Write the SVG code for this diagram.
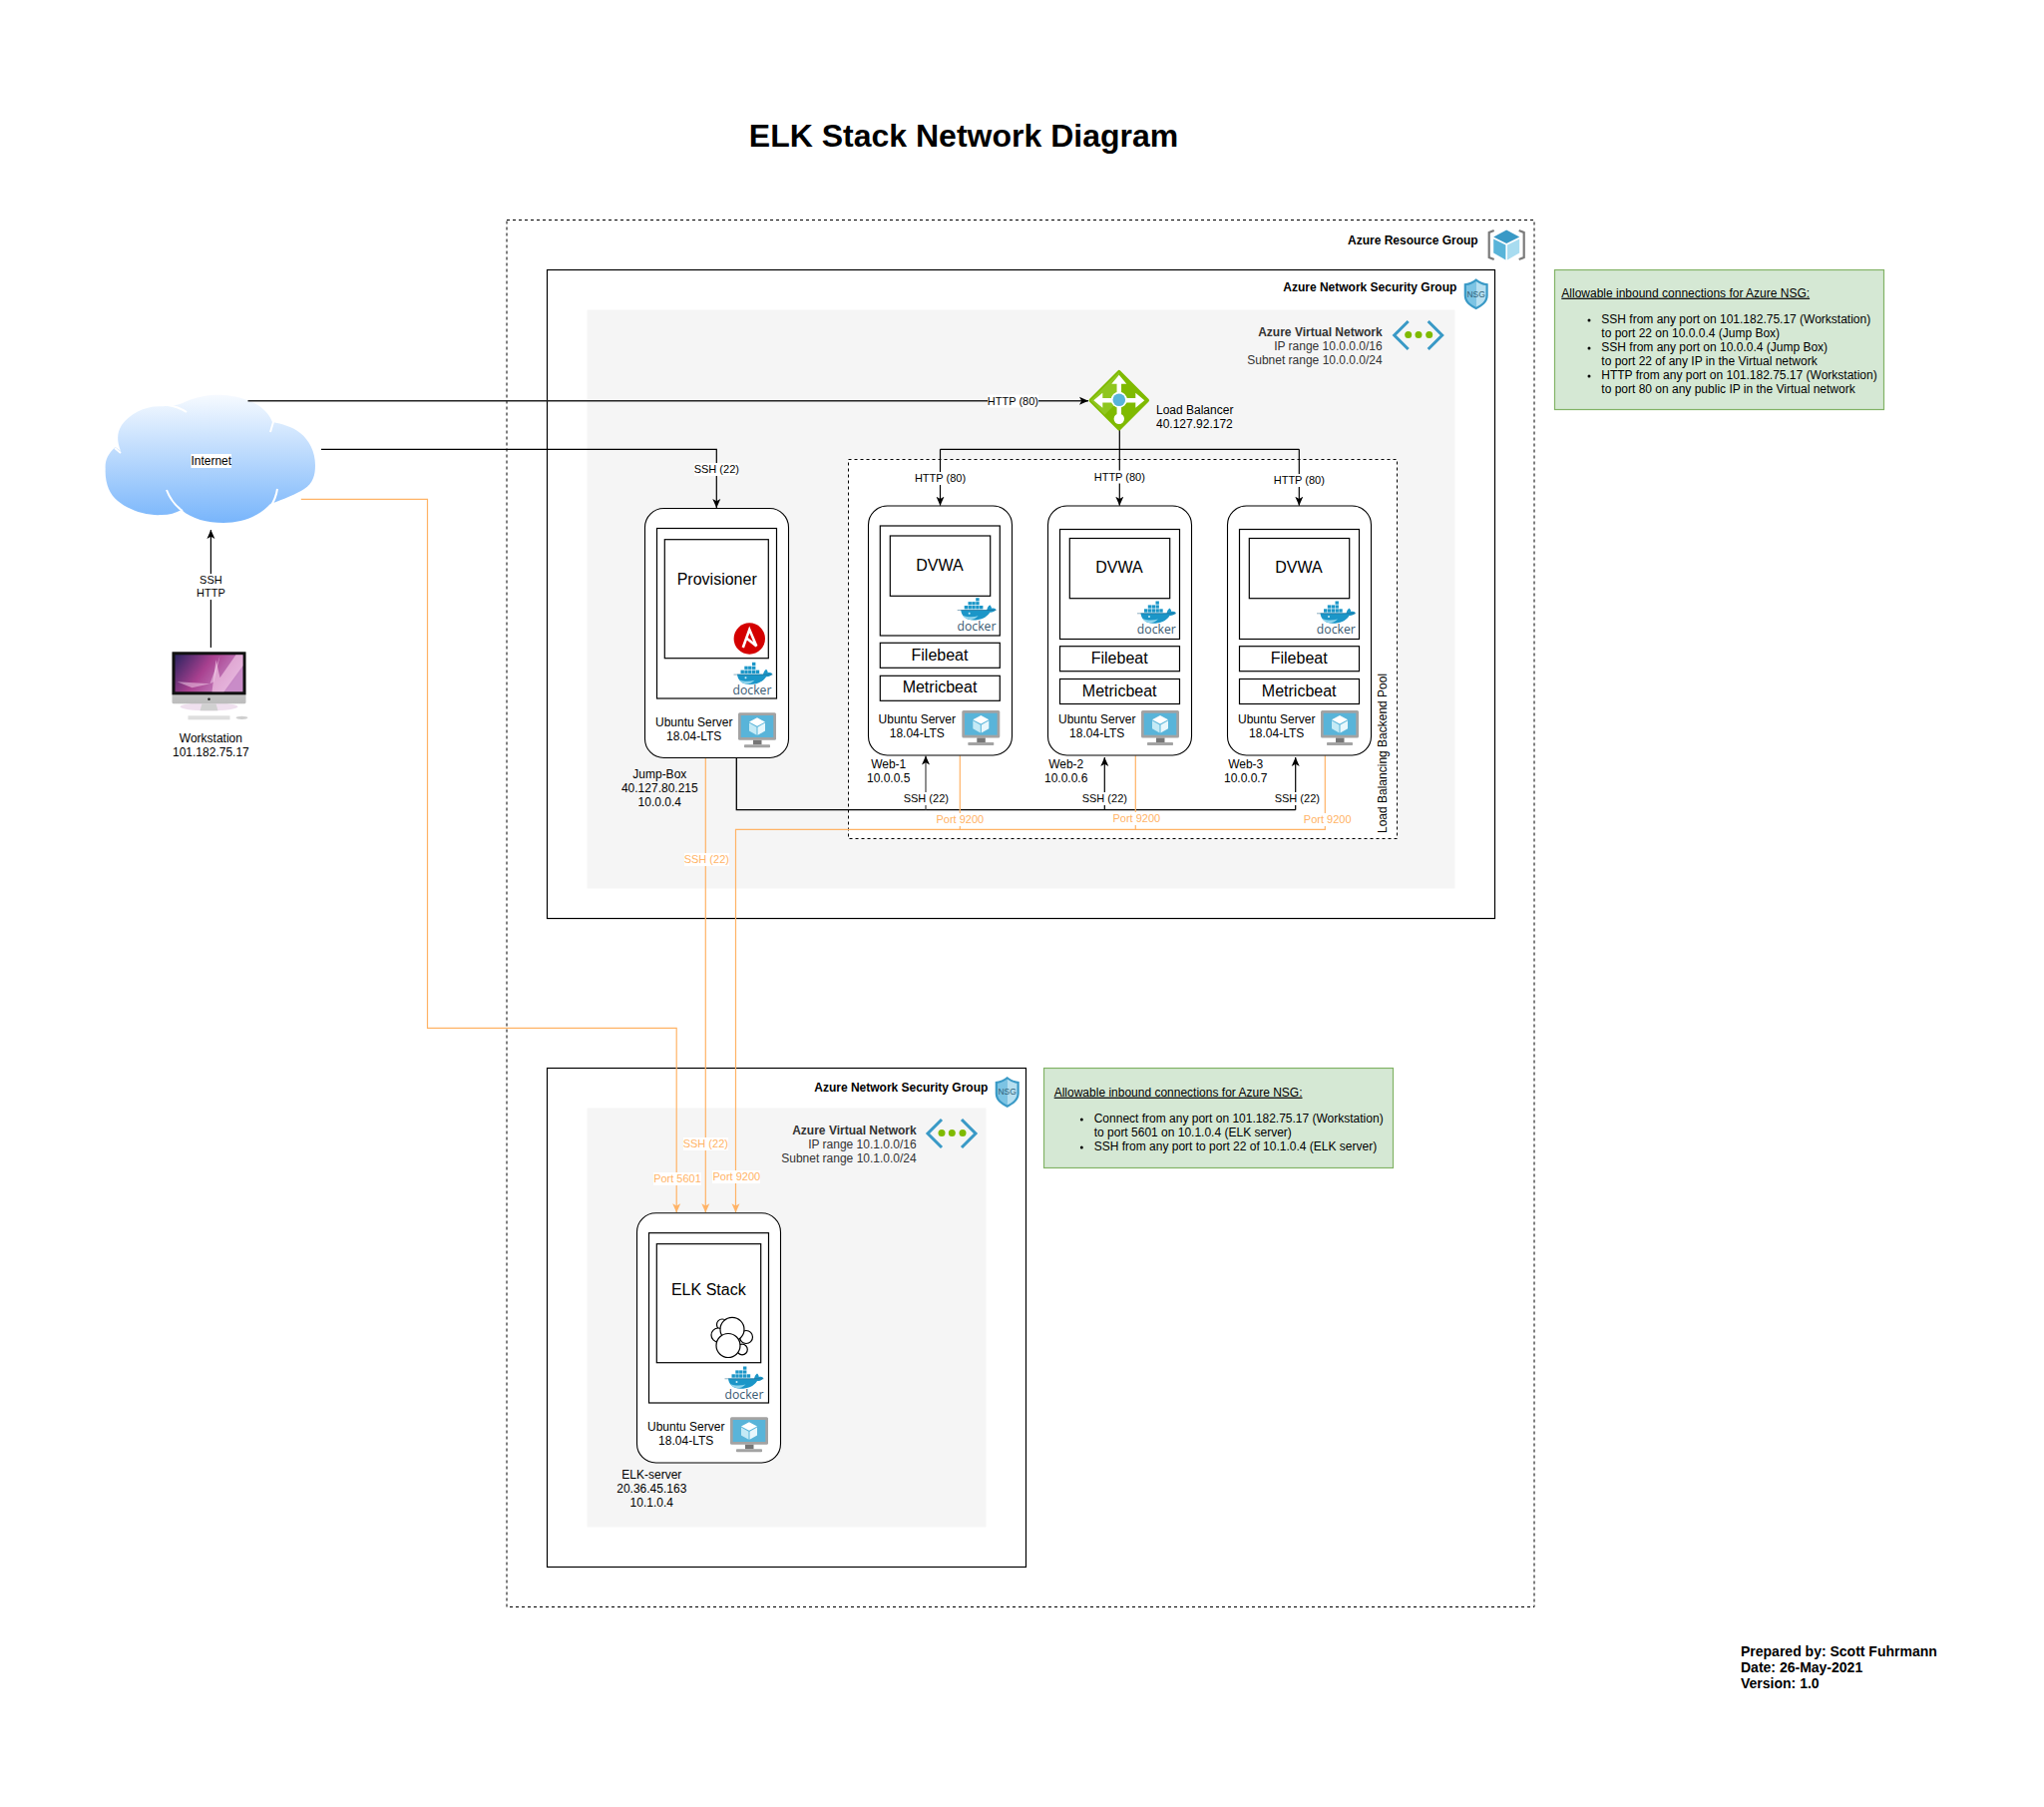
<svg xmlns="http://www.w3.org/2000/svg" xmlns:xlink="http://www.w3.org/1999/xlink" width="2049" height="1811" viewBox="0 0 2049 1811">
<style>
text{font-family:"Liberation Sans",Arial,sans-serif;font-size:12px;fill:#000}
.c{text-anchor:middle}.r{text-anchor:end}
.b{font-weight:bold}
.g{fill:#333}
.s11{font-size:11px}.s16{font-size:16px}
.o{fill:#FFB366}
.lbl{fill:#fff;stroke:none}
.box{fill:#fff;stroke:#000;stroke-width:1.2}
.srv{fill:#fff;stroke:#000;stroke-width:1.1}
.nsg{fill:none;stroke:#000;stroke-width:1.2}
.vnet{fill:#f5f5f5;stroke:none}
.dash{fill:none;stroke:#000;stroke-width:1;stroke-dasharray:3 3}
.note{fill:#d5e8d4;stroke:#82b366;stroke-width:1.2}
.k{fill:none;stroke:#000;stroke-width:1.2}
.kh{fill:none;stroke:#222;stroke-width:1.4;marker-end:url(#ak)}
.a{fill:none;stroke:#000;stroke-width:1.2;marker-end:url(#ak)}
.y{fill:none;stroke:#FFB366;stroke-width:1.2}
.ya{fill:none;stroke:#FFB366;stroke-width:1.2;marker-end:url(#ao)}
.dk{font-family:"Open Sans","Liberation Sans",sans-serif;font-size:12.2px;fill:#3a5a72;text-anchor:middle}
.nsgt{font-size:8.5px;fill:#2f6178;text-anchor:middle}
</style>
<defs>
<marker id="ak" markerUnits="userSpaceOnUse" markerWidth="10" markerHeight="10" refX="9" refY="4.5" orient="auto"><path d="M9,4.5 L0,0.5 L2.2,4.5 L0,8.5 Z" fill="#000"/></marker>
<marker id="ao" markerUnits="userSpaceOnUse" markerWidth="10" markerHeight="10" refX="9" refY="4.5" orient="auto"><path d="M9,4.5 L0,0.5 L2.2,4.5 L0,8.5 Z" fill="#FFB366"/></marker>
<linearGradient id="cloudg" x1="0" y1="0" x2="0" y2="1"><stop offset="0" stop-color="#f6faff"/><stop offset="1" stop-color="#78b5fb"/></linearGradient>
<linearGradient id="screeng" x1="0" y1="0" x2="1" y2="0.4"><stop offset="0" stop-color="#2c2460"/><stop offset=".5" stop-color="#a8408f"/><stop offset="1" stop-color="#c98cc8"/></linearGradient>
<linearGradient id="chin" x1="0" y1="0" x2="0" y2="1"><stop offset="0" stop-color="#e4e4e4"/><stop offset="1" stop-color="#bcbcbc"/></linearGradient>
<g id="whale">
<g fill="#1b96c8">
<rect x="18.5" y="0.5" width="3.4" height="3.2"/>
<rect x="10.8" y="4.4" width="3.4" height="3.2"/><rect x="14.6" y="4.4" width="3.4" height="3.2"/><rect x="18.5" y="4.4" width="3.4" height="3.2"/>
<rect x="7" y="8.3" width="3.4" height="3.4"/><rect x="10.8" y="8.3" width="3.4" height="3.4"/><rect x="14.6" y="8.3" width="3.4" height="3.4"/><rect x="18.5" y="8.3" width="3.4" height="3.4"/><rect x="22.3" y="8.3" width="3.4" height="3.4"/>
<path d="M3.5,12.5 H29.5 C30,10.2 31,8.7 32.5,7.5 C33.8,8.7 34.3,10 34.2,11 C36,10.5 37.6,11 38.8,12 C37.3,14.4 34.8,15.2 32.6,15 C29,20.5 23,22.8 16,22.8 C9,22.8 4,19 3.5,12.5 Z"/>
</g>
<path d="M0,12.8 H39" stroke="#1d5f85" stroke-width=".5" fill="none"/>
<path d="M5.5,18 C10,20 16,20 21,18.5 C18,21.5 15,22.4 13,22.3 C10,22 7,20.5 5.5,18 Z" fill="#8fd4ec"/>
<circle cx="12" cy="16" r="1" fill="#cfeef8"/>
</g>
<g id="vm">
<rect x="0" y="0" width="38" height="27.5" rx="1.5" fill="#a3a3a3"/>
<rect x="2.7" y="2.7" width="32.6" height="22" fill="#59b4d9"/>
<rect x="15" y="27.5" width="8.5" height="4.5" fill="#767676"/>
<rect x="6" y="32" width="26" height="3" rx=".8" fill="#a3a3a3"/>
<path d="M19,5 L27,9.3 L19,13.5 L11,9.3 Z" fill="#fff"/>
<path d="M11,10.3 L18.5,14.4 V22.5 L11,18.3 Z" fill="#c4eaf6"/>
<path d="M27,10.3 L19.5,14.4 V22.5 L27,18.3 Z" fill="#e8f7fc"/>
</g>
<g id="shield">
<path d="M12,0 C8.5,3.2 4.5,4.5 0,5 V17 C0,23.8 6,28 12,31 C18,28 24,23.8 24,17 V5 C19.5,4.5 15.5,3.2 12,0 Z" fill="#3999c6"/>
<path d="M12,2.6 C9,5 5.5,6.2 2.2,6.8 V17 C2.2,22.5 7,26 12,28.5 Z" fill="#7cc4e4"/>
<path d="M12,2.6 C15,5 18.5,6.2 21.8,6.8 V17 C21.8,22.5 17,26 12,28.5 Z" fill="#b6dff0"/>
</g>
<g id="vneticon">
<path d="M16,1 L2,15 L16,29" fill="none" stroke="#3999c6" stroke-width="3"/>
<path d="M36,1 L50,15 L36,29" fill="none" stroke="#3999c6" stroke-width="3"/>
<circle cx="16" cy="14.5" r="3.5" fill="#7fba00"/><circle cx="26.3" cy="14.5" r="3.5" fill="#7fba00"/><circle cx="37" cy="14.5" r="3.5" fill="#7fba00"/>
</g>
</defs>
<rect width="2049" height="1811" fill="#fff"/>
<text id="title" x="966" y="147" class="c b" style="font-size:32px">ELK Stack Network Diagram</text>

<g id="resource-group">
<rect class="dash" x="508" y="220.5" width="1030" height="1390"/>
<text class="r b" x="1481.7" y="244.7">Azure Resource Group</text>
<g transform="translate(1490.7,230)">
<path d="M7,1 L2,3 V28 L7,30 M32,1 L37,3 V28 L32,30" fill="none" stroke="#7a7a7a" stroke-width="2.2"/>
<path d="M19.5,0.5 L32.5,7.5 L19.5,14 L6.5,7.5 Z" fill="#3999c6"/>
<path d="M6.5,9.5 L18.7,15.5 V30.5 L6.5,23.5 Z" fill="#59b4d9"/>
<path d="M32.5,9.5 L20.3,15.5 V30.5 L32.5,23.5 Z" fill="#a8dcf0"/>
</g>
</g>

<g id="nsg-1">
<rect class="nsg" x="548.5" y="270.5" width="950" height="650"/>
<text class="r b" x="1460.3" y="291.7">Azure Network Security Group</text>
<use xlink:href="#shield" href="#shield" transform="translate(1467.7,279.3)"/>
<text class="nsgt" x="1479.7" y="297.5">NSG</text>
</g>
<g id="vnet-1">
<rect class="vnet" x="588.5" y="310.5" width="870" height="580"/>
<text class="r b g" x="1385.7" y="336.7">Azure Virtual Network</text>
<text class="r g" x="1385.7" y="350.7">IP range 10.0.0.0/16</text>
<text class="r g" x="1385.7" y="364.7">Subnet range 10.0.0.0/24</text>
<use xlink:href="#vneticon" href="#vneticon" transform="translate(1395.7,321)"/>
</g>
<g id="backend-pool">
<rect class="dash" x="850.5" y="460.5" width="550" height="380" style="fill:#fff"/>
<text transform="translate(1389.7,835) rotate(-90)">Load Balancing Backend Pool</text>
</g>

<g id="nsg-2">
<rect class="nsg" x="548.5" y="1070.5" width="480" height="500"/>
<text class="r b" x="990.3" y="1094">Azure Network Security Group</text>
<use xlink:href="#shield" href="#shield" transform="translate(997.7,1079)"/>
<text class="nsgt" x="1009.7" y="1097.2">NSG</text>
</g>
<g id="vnet-2">
<rect class="vnet" x="588.5" y="1110.5" width="400" height="420"/>
<text class="r b g" x="918.7" y="1136.7">Azure Virtual Network</text>
<text class="r g" x="918.7" y="1150.7">IP range 10.1.0.0/16</text>
<text class="r g" x="918.7" y="1164.7">Subnet range 10.1.0.0/24</text>
<use xlink:href="#vneticon" href="#vneticon" transform="translate(928,1121)"/>
</g>

<g id="internet">
<path d="M115.5,448 C108,455 105,462 105.7,470 C105,484 110,496 118,502 C130,512 148,517 162,516 C170,516 176,514 182,511 C192,520 208,524 224,524 C244,524 260,517 271,505 C285,500 297,495 305,490 C314,484 316,476 316,466 C316,453 310,441 301,434 C292,427 283,425 273,423 C269,412 259,405 248,401 C238,397 226,395.7 217,395.7 C203,396 191,400 183,404 C175,407 168,407 160,407.3 C145,407 130,415 122,426 C117,434 117,442 121,452 Z" fill="url(#cloudg)"/>
<path d="M167,491 C170,499 176,507 183,512 M278,490 C277,497 275,502 271,508 M274,423 L271,433 M168,406 C175,407 181,409 187,413 M115,449 L121,454" fill="none" stroke="#fff" stroke-width="2"/>
<rect class="lbl" x="191.5" y="455" width="40.5" height="14"/>
<text class="c" x="211.8" y="466">Internet</text>
</g>

<g id="connectors">
<path class="kh" d="M248.5,401.7 H1091"/>
<path class="a" d="M322,450.3 H718.3 V509"/>
<path class="k" d="M1122.3,431 V450.3 M942.5,450.3 H1302.3"/>
<path class="a" d="M942.5,450.3 V506.7"/>
<path class="a" d="M1122.3,450.3 V506.7"/>
<path class="a" d="M1302.3,450.3 V506.7"/>
<path class="a" d="M211.4,649 V531"/>
<path class="k" d="M738.3,759.3 V811.7 H1298.7" style="stroke-width:1.3"/>
<path class="a" d="M928,811.7 V757.5" style="stroke:#444"/>
<path class="a" d="M1107.3,811.7 V759"/>
<path class="a" d="M1298.7,811.7 V759"/>
<path class="ya" d="M301.8,500.3 H428.5 V1030.3 H678.2 V1215.3"/>
<path class="ya" d="M707.3,759.3 V1215.3"/>
<path class="ya" d="M1328.3,757.3 V831.3 H737.5 V1215.3"/>
<path class="y" d="M962.3,757.3 V831.3 M1138.3,757.3 V831.3"/>

<rect class="lbl" x="990" y="395.5" width="51" height="13"/><text class="c s11" x="1015.4" y="405.7">HTTP (80)</text>
<rect class="lbl" x="696" y="464" width="45" height="13"/><text class="c s11" x="718.3" y="474">SSH (22)</text>
<rect class="lbl" x="917" y="473" width="51" height="13"/><text class="c s11" x="942.5" y="483.3">HTTP (80)</text>
<rect class="lbl" x="1097" y="471.5" width="51" height="13"/><text class="c s11" x="1122.3" y="481.7">HTTP (80)</text>
<rect class="lbl" x="1277" y="475" width="51" height="13"/><text class="c s11" x="1302.3" y="485">HTTP (80)</text>
<rect class="lbl" x="196" y="575" width="31" height="26"/><text class="c s11" x="211.4" y="585">SSH</text><text class="c s11" x="211.4" y="598">HTTP</text>
<rect class="lbl" x="906" y="794" width="45" height="13"/><text class="c s11" x="928.3" y="804">SSH (22)</text>
<rect class="lbl" x="1085" y="794" width="45" height="13"/><text class="c s11" x="1107.3" y="804">SSH (22)</text>
<rect class="lbl" x="1278" y="794" width="45" height="13"/><text class="c s11" x="1300.3" y="804">SSH (22)</text>
<rect class="lbl" x="938" y="815" width="48" height="13"/><text class="c s11 o" x="962.3" y="825">Port 9200</text>
<rect class="lbl" x="1115" y="814" width="48" height="13"/><text class="c s11 o" x="1139.3" y="824">Port 9200</text>
<rect class="lbl" x="1307" y="815" width="48" height="13"/><text class="c s11 o" x="1330.7" y="825">Port 9200</text>
<rect class="lbl" x="686" y="855" width="45" height="13"/><text class="c s11 o" x="708.3" y="865">SSH (22)</text>
<rect class="lbl" x="685" y="1140" width="45" height="13"/><text class="c s11 o" x="707.3" y="1150">SSH (22)</text>
<rect class="lbl" x="655" y="1175" width="48" height="13"/><text class="c s11 o" x="679" y="1185">Port 5601</text>
<rect class="lbl" x="714" y="1173" width="48" height="13"/><text class="c s11 o" x="738.3" y="1183">Port 9200</text>
</g>

<g id="workstation">
<g transform="translate(172.5,653.3)">
<ellipse cx="37" cy="55" rx="29" ry="4" fill="#efe0ee"/>
<rect x="0" y="0" width="74" height="52" rx="1.5" fill="url(#chin)"/>
<rect x="0" y="0" width="74" height="43" fill="#111"/>
<rect x="3" y="3" width="68" height="37" fill="url(#screeng)"/>
<path d="M40,40 L44,8 L48,26 L64,3 L71,3 L71,14 L52,40 Z" fill="#f4c9e6" opacity=".65"/>
<path d="M5,30 L38,32 L20,36 Z M38,32 L48,4 L42,30 Z" fill="#f6d8ee" opacity=".5"/>
<circle cx="37" cy="47.5" r="1.3" fill="#222"/>
<path d="M30,52 H44 L46,59 H28 Z" fill="#d0d0d0"/>
<rect x="16" y="64" width="42" height="4" fill="#dedede"/>
<ellipse cx="70" cy="66" rx="6" ry="1.6" fill="#cfcfcf"/>
</g>
<text class="c" x="211.4" y="743.7">Workstation</text>
<text class="c" x="211.4" y="757.7">101.182.75.17</text>
</g>

<g id="load-balancer">
<g transform="translate(1091.3,370.7)">
<path d="M30.5,2 L59,30.5 L30.5,59 L2,30.5 Z" fill="#7fba00" stroke="#7fba00" stroke-width="3.5" stroke-linejoin="round"/>
<path d="M2,30.5 L30.5,2 L30.5,30.5 L16,45 Z" fill="#8fc61f"/>
<path d="M30.5,45 V12 M13,30.5 H48" stroke="#fff" stroke-width="4.5" fill="none"/>
<path d="M30.5,5 L38,14 H23 Z M5,30.5 L14,23 V38 Z M56,30.5 L47,23 V38 Z" fill="#fff"/>
<circle cx="30.5" cy="30" r="8" fill="#fff"/><circle cx="30.5" cy="30" r="6.3" fill="#59b4d9"/>
<circle cx="30.5" cy="49" r="5.2" fill="#fff"/>
</g>
<text x="1159" y="414.7">Load Balancer</text>
<text x="1159" y="428.7">40.127.92.172</text>
</g>

<g id="jump-box">
<rect class="srv" x="646.5" y="509.5" width="144" height="250" rx="19"/>
<rect class="box" x="658.5" y="529.5" width="120" height="170.5"/>
<rect class="box" x="666.3" y="540.7" width="104" height="119"/>
<text class="c s16" x="718.7" y="586">Provisioner</text>
<g transform="translate(751.3,640)">
<circle r="15.7" fill="#d40000"/>
<path d="M-6.5,9 L0,-9 L7,7.5 L-3,-0.5" fill="none" stroke="#fff" stroke-width="2.6" stroke-linejoin="miter"/>
</g>
<use xlink:href="#whale" href="#whale" transform="translate(735.5,663.3)"/>
<text class="dk" x="754" y="696">docker</text>
<text class="c" x="695.7" y="728">Ubuntu Server</text>
<text class="c" x="695.7" y="742">18.04-LTS</text>
<use xlink:href="#vm" href="#vm" transform="translate(740,714.3)"/>
<text class="c" x="661.3" y="779.7">Jump-Box</text>
<text class="c" x="661.3" y="793.7">40.127.80.215</text>
<text class="c" x="661.3" y="807.7">10.0.0.4</text>
</g>

<g id="web-1">
<rect class="srv" x="870.5" y="507" width="144" height="250" rx="19"/>
<rect class="box" x="882.3" y="527" width="120" height="110"/>
<rect class="box" x="892.3" y="537" width="100.4" height="60.3"/>
<text class="c s16" x="942" y="571.7">DVWA</text>
<use xlink:href="#whale" href="#whale" transform="translate(959.7,598.7)"/>
<text class="dk" x="979" y="631.5">docker</text>
<rect class="box" x="882.3" y="644.3" width="120" height="25"/>
<text class="c s16" x="942" y="661.5">Filebeat</text>
<rect class="box" x="882.3" y="677.3" width="120" height="25"/>
<text class="c s16" x="942" y="694">Metricbeat</text>
<text class="c" x="919.3" y="725">Ubuntu Server</text>
<text class="c" x="919.3" y="739">18.04-LTS</text>
<use xlink:href="#vm" href="#vm" transform="translate(964.3,712)"/>
<text class="c" x="890.7" y="770">Web-1</text>
<text class="c" x="890.7" y="784">10.0.0.5</text>
</g>

<g id="web-2">
<rect class="srv" x="1050.5" y="507" width="144" height="250" rx="19"/>
<rect class="box" x="1062.5" y="530.5" width="120" height="110"/>
<rect class="box" x="1072.3" y="539.5" width="100.4" height="60.2"/>
<text class="c s16" x="1122" y="573.7">DVWA</text>
<use xlink:href="#whale" href="#whale" transform="translate(1140,602)"/>
<text class="dk" x="1159.3" y="634.8">docker</text>
<rect class="box" x="1062.5" y="647.7" width="120" height="25"/>
<text class="c s16" x="1122.2" y="665">Filebeat</text>
<rect class="box" x="1062.5" y="680.5" width="120" height="25"/>
<text class="c s16" x="1122.2" y="698">Metricbeat</text>
<text class="c" x="1099.7" y="725">Ubuntu Server</text>
<text class="c" x="1099.7" y="739">18.04-LTS</text>
<use xlink:href="#vm" href="#vm" transform="translate(1144,712)"/>
<text class="c" x="1068.7" y="770">Web-2</text>
<text class="c" x="1068.7" y="784">10.0.0.6</text>
</g>

<g id="web-3">
<rect class="srv" x="1230.5" y="507" width="144" height="250" rx="19"/>
<rect class="box" x="1242.5" y="530.5" width="120" height="110"/>
<rect class="box" x="1252.3" y="539.5" width="100.4" height="60.2"/>
<text class="c s16" x="1302" y="573.7">DVWA</text>
<use xlink:href="#whale" href="#whale" transform="translate(1320,602)"/>
<text class="dk" x="1339.3" y="634.8">docker</text>
<rect class="box" x="1242.5" y="647.7" width="120" height="25"/>
<text class="c s16" x="1302.2" y="665">Filebeat</text>
<rect class="box" x="1242.5" y="680.5" width="120" height="25"/>
<text class="c s16" x="1302.2" y="698">Metricbeat</text>
<text class="c" x="1279.7" y="725">Ubuntu Server</text>
<text class="c" x="1279.7" y="739">18.04-LTS</text>
<use xlink:href="#vm" href="#vm" transform="translate(1324,712)"/>
<text class="c" x="1248.7" y="770">Web-3</text>
<text class="c" x="1248.7" y="784">10.0.0.7</text>
</g>

<g id="elk-server">
<rect class="srv" x="638.5" y="1215.7" width="144" height="250.3" rx="19"/>
<rect class="box" x="650.5" y="1235.7" width="120" height="170.3"/>
<rect class="box" x="658.3" y="1246.7" width="104.4" height="119"/>
<text class="c s16" x="710.3" y="1297.7">ELK Stack</text>
<g transform="translate(713,1320)" fill="#fff" stroke="#000" stroke-width="1.2">
<circle cx="11" cy="7.5" r="5.5"/><circle cx="7" cy="18" r="7"/><circle cx="35" cy="20" r="6.5"/><circle cx="31" cy="32.5" r="5.3"/>
<circle cx="21" cy="12.3" r="12"/><circle cx="17" cy="28.5" r="12"/>
</g>
<use xlink:href="#whale" href="#whale" transform="translate(726.5,1369)"/>
<text class="dk" x="746" y="1402">docker</text>
<text class="c" x="687.7" y="1434.3">Ubuntu Server</text>
<text class="c" x="687.7" y="1448.3">18.04-LTS</text>
<use xlink:href="#vm" href="#vm" transform="translate(732,1420.3)"/>
<text class="c" x="653.3" y="1481.7">ELK-server</text>
<text class="c" x="653.3" y="1495.7">20.36.45.163</text>
<text class="c" x="653.3" y="1509.7">10.1.0.4</text>
</g>

<g id="note-1">
<rect class="note" x="1558.5" y="270.5" width="330" height="140"/>
<text x="1565.3" y="297.7" text-decoration="underline">Allowable inbound connections for Azure NSG:</text>
<circle cx="1593" cy="321" r="1.5"/><circle cx="1593" cy="349" r="1.5"/><circle cx="1593" cy="377" r="1.5"/>
<text x="1605.3" y="324">SSH from any port on 101.182.75.17 (Workstation)</text>
<text x="1605.3" y="338">to port 22 on 10.0.0.4 (Jump Box)</text>
<text x="1605.3" y="352">SSH from any port on 10.0.0.4 (Jump Box)</text>
<text x="1605.3" y="366">to port 22 of any IP in the Virtual network</text>
<text x="1605.3" y="380">HTTP from any port on 101.182.75.17 (Workstation)</text>
<text x="1605.3" y="394">to port 80 on any public IP in the Virtual network</text>
</g>
<g id="note-2">
<rect class="note" x="1046.5" y="1070.5" width="350" height="100"/>
<text x="1056.7" y="1098.7" text-decoration="underline">Allowable inbound connections for Azure NSG:</text>
<circle cx="1084.3" cy="1122" r="1.5"/><circle cx="1084.3" cy="1150" r="1.5"/>
<text x="1096.7" y="1125">Connect from any port on 101.182.75.17 (Workstation)</text>
<text x="1096.7" y="1139">to port 5601 on 10.1.0.4 (ELK server)</text>
<text x="1096.7" y="1153">SSH from any port to port 22 of 10.1.0.4 (ELK server)</text>
</g>
<g id="footer">
<text class="b" x="1745" y="1660" style="font-size:14px">Prepared by: Scott Fuhrmann</text>
<text class="b" x="1745" y="1676" style="font-size:14px">Date: 26-May-2021</text>
<text class="b" x="1745" y="1692" style="font-size:14px">Version: 1.0</text>
</g>
</svg>
